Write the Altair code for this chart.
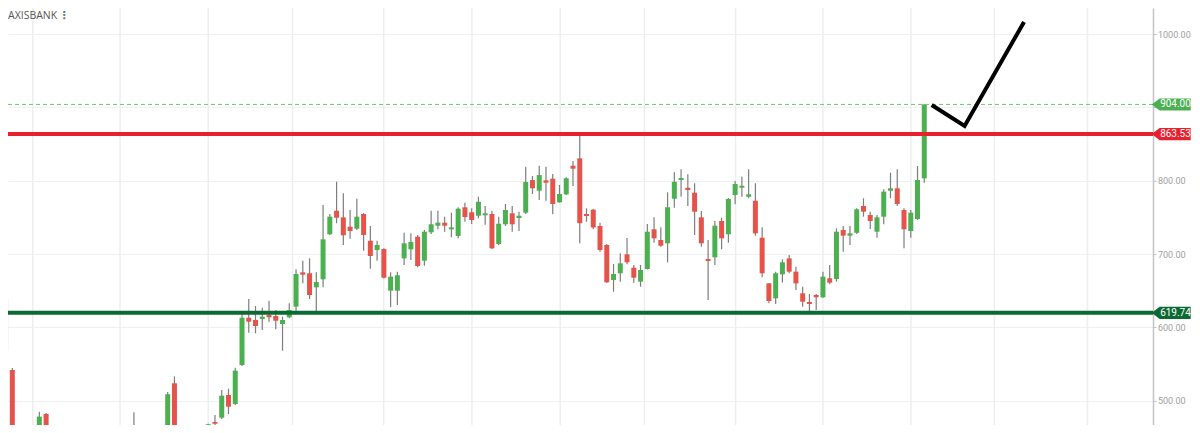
import altair as alt
import pandas as pd

# ---- data (weekly candles, index = position) ----
opens = [638.6, 541.8, 445, 436, 446, 441, 481.8, 452, 447, 436,
         440, 432, 437, 443, 435, 440, 445, 441, 449, 443,
         450, 441, 446, 440, 450, 523.7, 456.3, 448, 442, 450,
         452, 470.9, 476.8, 507.7, 495.5, 548.6, 613.1, 610.0, 611.4, 616.8,
         615.5, 604.5, 613.7, 628.2, 675.0, 673.7, 654.6, 665.5, 726.9, 759.0,
         750.0, 737.2, 734.5, 754.6, 718.1, 705.5, 706.8, 650.0, 650.0, 694.1,
         706.4, 723.6, 690.9, 729.6, 738.6, 742.7, 733.7, 724.6, 763.7, 756.9,
         752.2, 752.8, 754.6, 713.6, 740.5, 755.5, 749.1, 756.3, 800.9, 786.3,
         800.5, 802.7, 770.5, 781.4, 820.4, 830.5, 754.6, 760.4, 738.2, 712.3,
         664.6, 673.7, 699.6, 681.3, 662.3, 679.6, 733.7, 719.1, 714.6, 775.4,
         800.9, 790.4, 783.6, 750.0, 693.2, 695.5, 745.0, 726.9, 780.5, 790.4,
         778.1, 772.7, 722.2, 660.0, 639.6, 672.3, 694.1, 675.9, 646.4, 634.6,
         644.1, 641.0, 666.9, 665.9, 732.7, 725.0, 729.0, 765.5, 753.2, 730.4,
         750.9, 786.3, 789.6, 760.0, 731.4, 747.7, 803.2]
highs = [641.4, 544.6, 452, 449, 453, 485.0, 483.2, 461.4, 452, 444,
         448, 441, 446, 450, 444, 449, 452, 460.0, 454, 484.2,
         455, 450, 453, 452, 511.8, 533.2, 465.9, 454, 453, 455,
         468.5, 480.5, 514.6, 516.3, 545.0, 619.6, 638.6, 629.1, 626.8, 636.3,
         623.6, 614.5, 632.8, 679.1, 690.9, 694.1, 675.0, 766.8, 754.6, 798.6,
         782.8, 760.0, 775.4, 755.9, 738.2, 718.1, 707.8, 675.0, 675.9, 729.0,
         728.2, 725.9, 732.7, 759.0, 759.0, 750.9, 756.3, 763.7, 770.0, 762.3,
         778.1, 765.5, 759.0, 750.9, 768.2, 765.5, 757.7, 819.0, 806.4, 820.4,
         819.0, 809.1, 794.1, 804.6, 826.8, 866.0, 762.3, 761.4, 742.7, 713.6,
         686.4, 701.0, 721.8, 685.0, 685.0, 740.9, 750.0, 736.4, 784.1, 811.4,
         815.5, 808.7, 796.4, 758.6, 719.1, 745.4, 749.5, 776.4, 799.6, 805.4,
         815.5, 796.4, 736.4, 660.5, 675.9, 692.8, 698.6, 682.7, 655.4, 645.5,
         645.5, 675.9, 685.0, 735.0, 738.2, 738.2, 762.3, 776.0, 757.7, 753.2,
         788.2, 810.9, 815.5, 762.3, 760.0, 820.0, 904.0]
lows = [430, 428, 425, 430, 437, 438, 446, 440, 432, 425,
        430, 422, 428, 433, 426, 431, 436, 437, 438, 439,
        437, 432, 436, 434, 445, 447, 440, 436, 435, 440,
        447, 462, 475, 481.8, 494, 547.3, 592.7, 591.9, 596.4, 607.7,
        597.3, 568.1, 612.7, 621.3, 660.1, 638.6, 620.0, 654.6, 726.0, 741.9,
        712.3, 720.9, 732.7, 704.5, 680.0, 690.9, 666.6, 627.3, 630.5, 685.0,
        691.8, 681.9, 684.0, 727.3, 733.7, 730.4, 722.8, 721.4, 744.0, 740.9,
        748.7, 740.0, 706.8, 712.3, 738.2, 730.4, 731.4, 754.6, 781.8, 773.6,
        772.7, 754.1, 770.0, 780.5, 792.7, 714.6, 744.0, 733.7, 703.2, 660.5,
        648.6, 662.3, 686.0, 660.9, 655.4, 679.0, 715.4, 710.0, 688.7, 763.1,
        778.1, 765.5, 726.0, 710.0, 637.3, 685.0, 706.4, 715.4, 767.8, 778.1,
        775.9, 725.0, 668.2, 632.8, 631.8, 660.9, 673.7, 650.9, 628.2, 622.3,
        623.6, 640.0, 658.7, 662.3, 703.1, 712.3, 727.3, 750.9, 734.1, 722.2,
        740.5, 776.0, 765.5, 707.8, 722.2, 746.4, 797.2]
closes = [567.7, 445, 436, 446, 441, 478.2, 452, 447, 436, 440,
          432, 437, 443, 435, 440, 445, 441, 449, 443, 450,
          441, 446, 440, 450, 508.7, 455, 448, 442, 450, 452,
          467.8, 468.5, 506.8, 491.8, 540.9, 613.1, 607.7, 601.8, 614.5, 613.7,
          609.0, 610.0, 623.6, 672.7, 671.8, 644.1, 661.8, 720.0, 750.9, 749.5,
          725.5, 731.4, 750.9, 726.0, 697.3, 712.3, 667.7, 669.1, 671.0, 714.6,
          716.4, 683.6, 730.4, 740.5, 742.7, 738.6, 736.4, 761.8, 750.5, 746.4,
          771.3, 755.5, 707.8, 741.3, 760.0, 740.5, 752.2, 798.2, 789.6, 807.7,
          797.2, 768.2, 781.8, 803.2, 816.3, 742.0, 751.8, 736.2, 705.5, 661.4,
          672.7, 687.3, 688.7, 667.7, 678.2, 730.4, 721.4, 711.3, 763.7, 798.6,
          803.6, 787.3, 757.7, 714.6, 690.5, 738.6, 721.4, 775.0, 795.5, 793.1,
          781.4, 728.2, 673.7, 635.9, 673.7, 688.7, 675.9, 660.0, 635.0, 631.8,
          641.0, 669.1, 660.9, 730.4, 725.0, 728.2, 761.0, 757.7, 745.0, 750.0,
          785.0, 789.6, 768.2, 733.7, 756.3, 800.9, 904.0]

grid_x = [4.03, 16.95, 30.0, 42.48, 55.98, 69.04, 82.1, 94.57, 108.07, 121.0, 134.04, 146.37, 160.16]
y_ticks = [500, 600, 700, 800, 900, 1000]

level_values = [904.00, 863.53, 619.74]
level_labels = ["904.00", "863.53", "619.74"]
level_colors = ["#4caf50", "#e8202e", "#0b6a32"]

sketch_i = [137.1, 141.97, 150.77]
sketch_p = [903.2, 874.5, 1016.4]

title_text = "AXISBANK"

# ---- tables ----
df = pd.DataFrame({"i": list(range(len(opens))), "open": opens, "high": highs,
                   "low": lows, "close": closes})
df["up"] = df["close"] >= df["open"]
grid_df = pd.DataFrame({"gx": grid_x})
lv_df = pd.DataFrame({"v": level_values, "lab": level_labels, "c": level_colors})
sk_df = pd.DataFrame({"i": sketch_i, "p": sketch_p, "o": list(range(len(sketch_i)))})
ttl_df = pd.DataFrame({"t": [title_text]})

W, H = 1145, 417
xs = alt.Scale(domain=[1.1, 169.12], nice=False, zero=False)
ys = alt.Scale(domain=[466.8, 1035.5], nice=False, zero=False)

yaxis = alt.Axis(orient="right", values=y_ticks, format=".2f",
                 labelExpr="datum.value == 900 ? '' : format(datum.value, '.2f')",
                 grid=True, gridColor="#f0f0f0", gridWidth=1,
                 domainColor="#c4c4c4", domainWidth=1.5,
                 tickColor="#c4c4c4", tickSize=3,
                 labelColor="#a0a0a0", labelFontSize=9, labelFont="Roboto",
                 labelPadding=1.5, title=None)


def Y(field):
    return alt.Y(field, type="quantitative", scale=ys, axis=yaxis)


def X(field):
    return alt.X(field, type="quantitative", scale=xs, axis=None)


base = alt.Chart(df)

vgrid = alt.Chart(grid_df).mark_rule(color="#eeeeee", strokeWidth=1.5).encode(x=X("gx"))

wicks = base.mark_rule(color="#7d7d7d", strokeWidth=1.2, clip=True).encode(
    x=X("i"), y=Y("low"), y2="high")

bodies = base.mark_bar(size=5, clip=True).encode(
    x=X("i"), y=Y("open"), y2="close",
    color=alt.Color("up:N", scale=alt.Scale(domain=[True, False], range=["#4caf50", "#e5534b"]), legend=None))

dashed = alt.Chart(lv_df.iloc[[0]]).mark_rule(color="#72c472", strokeWidth=1, strokeDash=[4, 3]).encode(y=Y("v"))
red_line = alt.Chart(lv_df.iloc[[1]]).mark_rule(color="#e8202e", strokeWidth=4).encode(y=Y("v"))
green_line = alt.Chart(lv_df.iloc[[2]]).mark_rule(color="#0b6a32", strokeWidth=4).encode(y=Y("v"))

sketch = alt.Chart(sk_df).mark_line(color="black", strokeWidth=4).encode(
    x=X("i"), y=Y("p"), order="o:Q")

tag_shape = "M-1,0 L-0.59,-0.31 L1,-0.31 L1,0.31 L-0.59,0.31 Z"
tags = alt.Chart(lv_df).mark_point(shape=tag_shape, size=1521, filled=True, opacity=1, strokeWidth=0).encode(
    x=alt.value(1163.2), y=Y("v"), color=alt.Color("c:N", scale=None))
tag_text = alt.Chart(lv_df).mark_text(color="white", fontSize=10, font="Roboto", align="center",
                                      baseline="middle").encode(
    x=alt.value(1167.5), y=Y("v"), text="lab:N")

title = alt.Chart(ttl_df).mark_text(align="left", baseline="middle", fontSize=10.5, font="Open Sans",
                                    color="#555555").encode(
    x=alt.value(0), y=alt.value(7.5), text="t:N")
dots = alt.Chart(ttl_df).mark_text(align="center", baseline="middle", fontSize=11, font="DejaVu Sans",
                                   fontWeight="bold", color="#777777").encode(
    x=alt.value(56), y=alt.value(7.5), text=alt.value("⋮"))

chart = alt.layer(vgrid, wicks, bodies, dashed, red_line, green_line, sketch, tags, tag_text, title, dots).properties(
    width=W, height=H, background="white",
    autosize=alt.AutoSizeParams(type="none"),
    padding={"left": 0, "top": 0, "right": 39, "bottom": 0}
).resolve_scale(color="independent").configure_view(stroke=None)

chart.save("out.html", embed_options={"renderer": "svg", "actions": False})
